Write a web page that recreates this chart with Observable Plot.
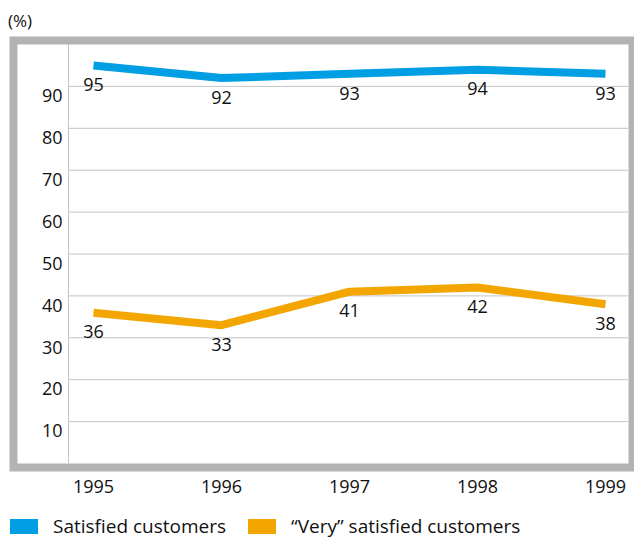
<!DOCTYPE html>
<html>
<head>
<meta charset="utf-8">
<script src="https://cdn.jsdelivr.net/npm/d3@7"></script>
<script src="https://cdn.jsdelivr.net/npm/@observablehq/plot@0.6"></script>
<style>
  body { margin: 0; background: #fff; font-family: "Open Sans", sans-serif; color: #111; }
  #wrap { position: relative; width: 634px; height: 538px; overflow: hidden; }
  #unit { position: absolute; left: 8px; top: 10px; font-size: 17px; line-height: 22px; }
  #chart { position: absolute; left: 0; top: 36px; }
  #legend { position: absolute; left: 10px; top: 512px; display: flex; align-items: center; font-size: 19px; line-height: 28px; }
  .item { display: flex; align-items: center; }
  .sw { display: inline-block; width: 28px; height: 15px; margin-right: 15px; }
</style>
</head>
<body>
<div id="wrap">
  <div id="unit">(%)</div>
  <div id="chart"></div>
  <div id="legend"></div>
</div>
<script>
const years = [1995, 1996, 1997, 1998, 1999];
const satisfied = [95, 92, 93, 94, 93];
const verySatisfied = [36, 33, 41, 42, 38];
const seriesNames = ["Satisfied customers", "\u201cVery\u201d satisfied customers"];
const seriesColors = ["#009fe3", "#f3a600"];
const yTicks = [10, 20, 30, 40, 50, 60, 70, 80, 90];

// one row per year and series
const rows = [];
[satisfied, verySatisfied].forEach((values, i) => {
  years.forEach((year, j) => rows.push({ year, value: values[j], series: seriesNames[i] }));
});

const chart = Plot.plot({
  width: 634,
  height: 464,
  marginLeft: 17,
  marginRight: 6,
  marginTop: 8,
  marginBottom: 37,
  style: { fontFamily: "'Open Sans', sans-serif", fontSize: "18px", color: "#111", background: "transparent" },
  x: { domain: [1995, 1999], insetLeft: 76, insetRight: 23 },
  y: { domain: [0, 100] },
  color: { domain: seriesNames, range: seriesColors },
  marks: [
    Plot.ruleY(yTicks, { stroke: "#c4c4c4", strokeWidth: 1, insetLeft: 51 }),
    Plot.ruleX([years[0]], { dx: -25, stroke: "#c4c4c4", strokeWidth: 1 }),
    Plot.frame({ stroke: "#b3b3b3", strokeWidth: 8, inset: -4 }),
    Plot.axisY(yTicks, { anchor: "left", label: null, tickSize: 0, tickPadding: 0, dx: 45, dy: 10, fontSize: 18 }),
    Plot.axisX(years, { anchor: "bottom", label: null, tickSize: 0, tickPadding: 17, tickFormat: d => String(d), fontSize: 18 }),
    Plot.line(rows, { x: "year", y: "value", z: "series", stroke: "series", strokeWidth: 8, strokeLinecap: "butt", strokeLinejoin: "round" }),
    Plot.text(rows, { x: "year", y: "value", text: d => String(d.value), dy: 20, fontSize: 18, fill: "#111" })
  ]
});
document.getElementById("chart").append(chart);

// legend
const legend = document.getElementById("legend");
seriesNames.forEach((name, i) => {
  const item = document.createElement("div");
  item.className = "item";
  if (i > 0) item.style.marginLeft = "22px";
  const sw = document.createElement("span");
  sw.className = "sw";
  sw.style.background = seriesColors[i];
  const label = document.createElement("span");
  label.textContent = name;
  item.append(sw, label);
  legend.append(item);
});
</script>
</body>
</html>
